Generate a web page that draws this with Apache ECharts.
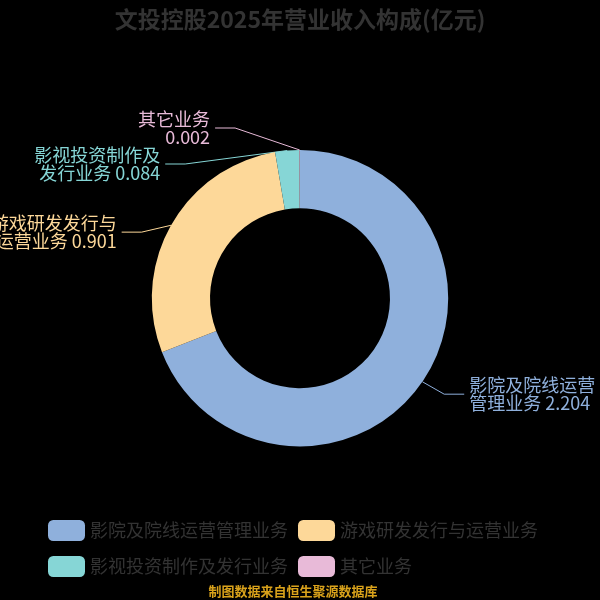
<!DOCTYPE html>
<html>
<head>
<meta charset="utf-8">
<script src="https://cdn.jsdelivr.net/npm/echarts@6/dist/echarts.min.js"></script>
<style>html,body{margin:0;padding:0;background:#000;}#c{width:600px;height:600px;}</style>
</head>
<body>
<div id="c"></div>
<script>
var titleText = '文投控股2025年营业收入构成(亿元)';
var categories = ['影院及院线运营管理业务', '游戏研发发行与运营业务', '影视投资制作及发行业务', '其它业务'];
var values = [2.204, 0.901, 0.084, 0.002];
var colors = ['#8fb0dc', '#fdd899', '#86d6d6', '#e8bad8'];
var footerText = '制图数据来自恒生聚源数据库';

var W = 600, H = 600;
var CENTER = ['50%', '49.7%'], RADIUS = ['30%', '49.4%'];
var LEN = 22, LEN2 = 20, FS = 18, LH = 18, GAP = 5;

// Classic (v4-style) outside-label layout, computed from the pie geometry
function computeLabelLayout() {
  var cx = W * parseFloat(CENTER[0]) / 100, cy = H * parseFloat(CENTER[1]) / 100;
  var r = Math.min(W, H) / 2 * parseFloat(RADIUS[1]) / 100;
  var total = values.reduce(function (a, b) { return a + b; }, 0);
  var cum = 0, items = [];
  values.forEach(function (v, i) {
    var mid = (90 - 360 * (cum + v / 2) / total) * Math.PI / 180;
    cum += v;
    var dx = Math.cos(mid), dy = -Math.sin(mid);
    var side = dx < 0 ? -1 : 1;
    var p0 = [cx + r * dx, cy + r * dy];
    var p1 = [cx + (r + LEN) * dx, cy + (r + LEN) * dy];
    items.push({ idx: i, side: side, p0: p0, x: p1[0] + side * LEN2, y: p1[1], height: 2 * LH });
  });
  [-1, 1].forEach(function (side) {
    var list = items.filter(function (it) { return it.side === side; });
    list.sort(function (a, b) { return a.y - b.y; });
    var n = list.length;
    function shiftUp(end, delta) {
      for (var j = end; j >= 0; j--) {
        if (list[j].y - delta < 0) break;
        list[j].y -= delta;
        if (j > 0 && list[j].y > list[j - 1].y + list[j - 1].height) break;
      }
    }
    function shiftDown(start, end, delta) {
      for (var j = start; j < end; j++) {
        if (list[j].y + delta > H) break;
        list[j].y += delta;
        if (j > start && j + 1 < end && list[j + 1].y > list[j].y + list[j].height) {
          shiftUp(j, delta / 2);
          return;
        }
      }
      shiftUp(end - 1, delta / 2);
    }
    var lastY = 0;
    for (var i = 0; i < n; i++) {
      var d = list[i].y - lastY;
      if (d < 0) shiftDown(i, n, -d);
      lastY = list[i].y + list[i].height;
    }
    function changeX(sub, isDown) {
      var lastDX = isDown ? Number.MAX_VALUE : 0;
      sub.forEach(function (it) {
        var dY = Math.abs(it.y - cy);
        var dX = dY < r + LEN ? Math.sqrt((r + LEN + LEN2) * (r + LEN + LEN2) - dY * dY) : Math.abs(it.x - cx);
        if (isDown && dX >= lastDX) dX = lastDX - 10;
        if (!isDown && dX <= lastDX) dX = lastDX + 10;
        it.x = cx + dX * side;
        lastDX = dX;
      });
    }
    changeX(list.filter(function (it) { return it.y < cy; }), false);
    changeX(list.filter(function (it) { return it.y >= cy; }), true);
  });
  var res = {};
  items.forEach(function (it) {
    res[it.idx] = {
      x: it.x + it.side * GAP,
      y: it.y,
      labelLinePoints: [it.p0, [it.x - it.side * LEN2, it.y], [it.x, it.y]]
    };
  });
  return res;
}
var labelPos = computeLabelLayout();

var chart = echarts.init(document.getElementById('c'));
var data = categories.map(function (n, i) {
  return { name: n, value: values[i], itemStyle: { color: colors[i] }, label: { color: colors[i] }, labelLine: { lineStyle: { color: colors[i] } } };
});
chart.setOption({
  backgroundColor: '#000',
  title: {
    text: titleText, left: 'center', top: 3,
    textStyle: { color: '#333', fontSize: 23, fontWeight: 'bold', fontFamily: 'Noto Sans CJK SC' }
  },
  graphic: [{
    type: 'text', x: 293, y: 585,
    style: { text: footerText, fill: '#d9a21b', font: 'bold 13px "Noto Sans CJK SC"', textAlign: 'center' }
  }],
  legend: [{
    left: 43, top: 515, itemWidth: 37, itemHeight: 21, itemGap: 10,
    textStyle: { color: '#333', fontSize: 18, fontFamily: 'Noto Sans CJK SC' },
    data: categories.slice(0, 2)
  }, {
    left: 43, top: 551, itemWidth: 37, itemHeight: 21, itemGap: 10,
    textStyle: { color: '#333', fontSize: 18, fontFamily: 'Noto Sans CJK SC' },
    data: categories.slice(2, 4)
  }],
  series: [{
    type: 'pie', center: CENTER, radius: RADIUS,
    startAngle: 90, clockwise: true,
    label: {
      fontSize: FS, fontFamily: 'Noto Sans CJK SC', width: 130, overflow: 'none', lineHeight: LH,
      verticalAlign: 'middle',
      formatter: function (p) {
        var n = p.name;
        if (n.length > 7) return n.slice(0, 7) + '\n' + n.slice(7) + ' ' + p.value;
        return n + '\n' + p.value;
      }
    },
    labelLine: { length: LEN, length2: LEN2 },
    labelLayout: function (params) {
      return labelPos[params.dataIndex];
    },
    data: data
  }]
});
</script>
</body>
</html>
